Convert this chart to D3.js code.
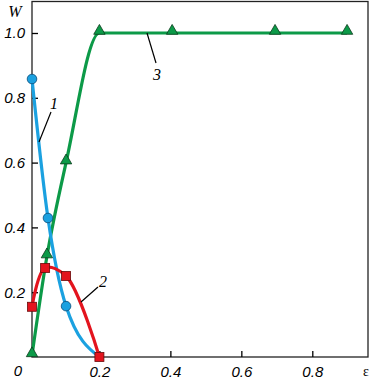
<!DOCTYPE html>
<html>
<head>
<meta charset="utf-8">
<script src="https://cdn.jsdelivr.net/npm/d3@7"></script>
<style>
body { margin: 0; background: #fff; }
.tick text { font-family: "Liberation Sans", Arial, sans-serif; font-style: italic; font-size: 15px; fill: #000; }
.lbl { font-family: "Liberation Serif", "Times New Roman", serif; font-style: italic; font-size: 16px; fill: #000; }
</style>
</head>
<body>
<svg id="chart" width="373" height="379"></svg>
<script>
// curve 1 (blue circles)
const eps1 = [0.01, 0.055, 0.106, 0.2];
const w1 = [0.858, 0.429, 0.157, 0.0];
// curve 2 (red squares)
const eps2 = [0.01, 0.047, 0.106, 0.2];
const w2 = [0.155, 0.275, 0.25, 0.0];
// curve 3 (green triangles)
const eps3 = [0.01, 0.052, 0.106, 0.2, 0.405, 0.695, 0.898];
const w3 = [0.005, 0.31, 0.6, 1.0, 1.0, 1.0, 1.0];

const xTicks = [0.2, 0.4, 0.6, 0.8];
const yTicks = [0.2, 0.4, 0.6, 0.8, 1.0];

const svg = d3.select("#chart");
const mLeft = 32, mRight = 368, mTop = 1.5, mBottom = 357;

const x = d3.scaleLinear().domain([0.01, 0.957]).range([mLeft, mRight]);
const y = d3.scaleLinear().domain([0, 1]).range([mBottom, 33]);

// frame
svg.append("rect")
  .attr("x", mLeft).attr("y", mTop)
  .attr("width", mRight - mLeft).attr("height", mBottom - mTop)
  .attr("fill", "none").attr("stroke", "#222").attr("stroke-width", 1.3);

const xAxis = svg.append("g")
  .attr("transform", "translate(0," + mBottom + ")")
  .call(d3.axisBottom(x).tickValues(xTicks).tickSize(-6).tickPadding(9).tickFormat(d3.format(".1f")));
xAxis.select(".domain").remove();
xAxis.selectAll("line").attr("stroke", "#000").attr("stroke-width", 1.3);

// "0" corner label
svg.append("g").attr("class", "tick").append("text")
  .attr("x", mLeft - 14).attr("y", mBottom + 19)
  .attr("text-anchor", "middle")
  .text("0");

const yAxis = svg.append("g")
  .attr("transform", "translate(" + mLeft + ",0)")
  .call(d3.axisLeft(y).tickValues(yTicks).tickSize(-6).tickPadding(7).tickFormat(d3.format(".1f")));
yAxis.select(".domain").remove();
yAxis.selectAll("line").attr("stroke", "#000").attr("stroke-width", 1.3);

const line = d3.line()
  .x(d => x(d[0]))
  .y(d => y(d[1]))
  .curve(d3.curveMonotoneX);

const s1 = eps1.map((e, i) => [e, w1[i]]);
const s2 = eps2.map((e, i) => [e, w2[i]]);
const s3 = eps3.map((e, i) => [e, w3[i]]);

const blue = "#1ba1e0", red = "#e3141e", green = "#0c9a48";

svg.append("path").datum(s3).attr("d", line)
  .attr("fill", "none").attr("stroke", green).attr("stroke-width", 3.2);
svg.append("path").datum(s1).attr("d", line)
  .attr("fill", "none").attr("stroke", blue).attr("stroke-width", 3.2);
svg.append("path").datum(s2).attr("d", d3.line().x(d => x(d[0])).y(d => y(d[1])).curve(d3.curveCatmullRom.alpha(0.5)))
  .attr("fill", "none").attr("stroke", red).attr("stroke-width", 3.2);

// markers
svg.selectAll(".tri").data(s3).enter().append("path")
  .attr("class", "tri")
  .attr("transform", d => "translate(" + x(d[0]) + "," + (y(d[1]) - 2) + ")")
  .attr("d", d3.symbol(d3.symbolTriangle, 56))
  .attr("fill", green).attr("stroke", "#0a3a1a").attr("stroke-width", 0.8);

svg.selectAll(".circ").data(s1.slice(0, 3)).enter().append("circle")
  .attr("class", "circ")
  .attr("cx", d => x(d[0])).attr("cy", d => y(d[1]))
  .attr("r", 4.8)
  .attr("fill", blue).attr("stroke", "#0b4c7a").attr("stroke-width", 0.8);

svg.selectAll(".sq").data(s2).enter().append("rect")
  .attr("class", "sq")
  .attr("x", d => x(d[0]) - 4.5).attr("y", d => y(d[1]) - 4.5)
  .attr("width", 9).attr("height", 9)
  .attr("fill", red).attr("stroke", "#6a0a0a").attr("stroke-width", 0.8);

// curve labels with leaders
const leaders = [
  { t: "1", x1: 51, y1: 112, x2: 39, y2: 142, tx: 54, ty: 109 },
  { t: "2", x1: 81, y1: 302, x2: 98, y2: 287, tx: 103, ty: 287 },
  { t: "3", x1: 147, y1: 33, x2: 156, y2: 63, tx: 157, ty: 80 }
];
leaders.forEach(l => {
  svg.append("line").attr("x1", l.x1).attr("y1", l.y1).attr("x2", l.x2).attr("y2", l.y2)
    .attr("stroke", "#000").attr("stroke-width", 1.2);
  svg.append("text").attr("class", "lbl").attr("x", l.tx).attr("y", l.ty)
    .attr("text-anchor", "middle").text(l.t);
});

svg.append("text").attr("class", "lbl").attr("x", 15).attr("y", 17)
  .attr("text-anchor", "middle").text("W");
svg.append("text").attr("class", "lbl").attr("x", 366).attr("y", 376)
  .attr("text-anchor", "middle").style("font-style", "normal").style("font-size", "14px").text("ε");
</script>
</body>
</html>
